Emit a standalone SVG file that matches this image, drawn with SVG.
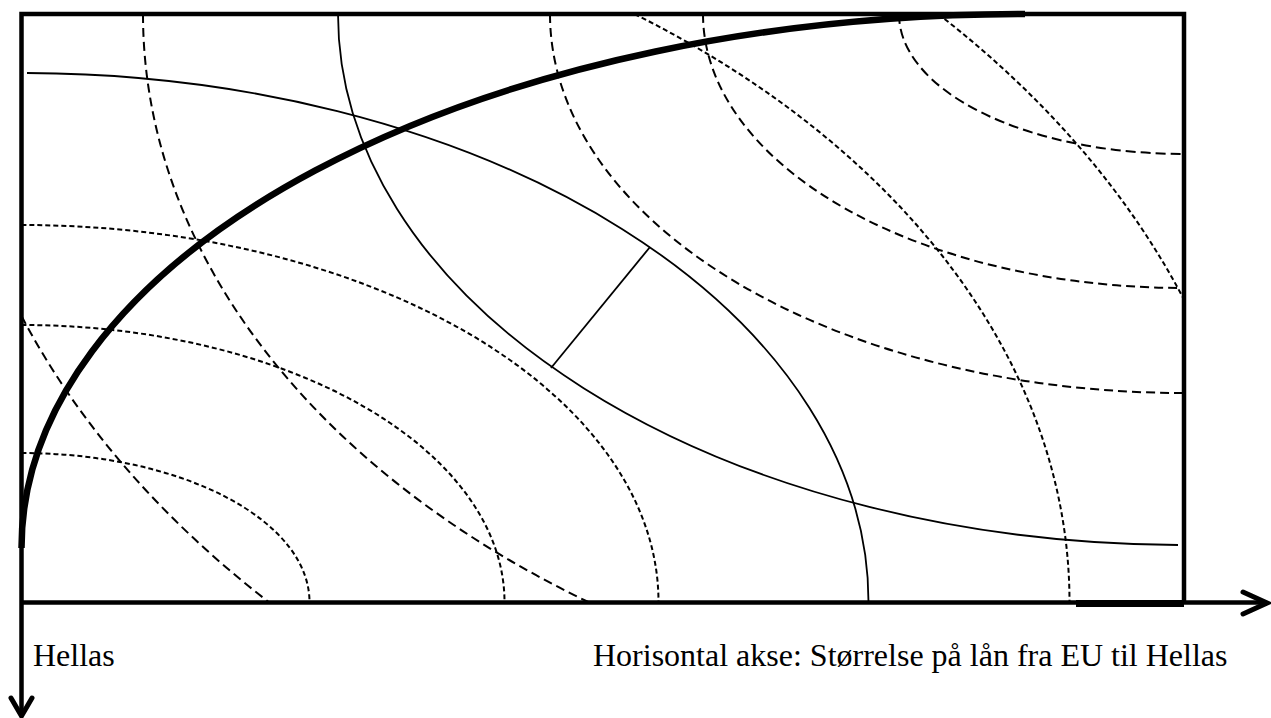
<svg xmlns="http://www.w3.org/2000/svg" width="1271" height="718" viewBox="0 0 1271 718">
<style>
.frame{fill:none;stroke:#000;stroke-width:4.5;stroke-linejoin:miter}
.arrow{fill:none;stroke:#000;stroke-width:5;stroke-linecap:round;stroke-linejoin:miter}
.solid{fill:none;stroke:#000;stroke-width:1.8}
.da{fill:none;stroke:#000;stroke-width:2;stroke-dasharray:9 5}
.db{fill:none;stroke:#000;stroke-width:2;stroke-dasharray:5 3}
.thick{fill:none;stroke:#000;stroke-width:6.5}
.lbl{font-family:"Liberation Serif","Times New Roman",serif;font-size:32px;fill:#000}
</style>
<rect width="1271" height="718" fill="#fff"/>
<g id="hellas-curves">
<path class="db" d="M21.5,453 A288,149 0 0 1 309.5,602"/>
<path class="db" d="M21.5,325 A483,277 0 0 1 504.5,602"/>
<path class="db" d="M21.5,225 A637,377 0 0 1 658.5,602"/>
<path class="db" d="M634.5,14 A1048,725 0 0 1 1069.5,602"/>
<path class="db" d="M938.2,14 A1239,874 0 0 1 1184,299.6"/>
</g>
<g id="eu-curves">
<path class="da" d="M21.5,316 A1237,873 0 0 0 268.7,602"/>
<path class="da" d="M143,14 A1041,717 0 0 0 588.3,602"/>
<path class="da" d="M550,14 A634,379 0 0 0 1184,393"/>
<path class="da" d="M703,14 A481,274 0 0 0 1184,288"/>
<path class="da" d="M899,14 A285,140 0 0 0 1184,154" style="stroke-dasharray:10 5"/>
</g>
<g id="tangent-curves">
<path class="solid" d="M27,73 A847,529 0 0 1 868.5,602"/>
<path class="solid" d="M338,14 A846,531 0 0 0 1178,545"/>
<path class="solid" d="M650,247 L551,368"/>
</g>
<g id="contract-curve">
<path class="thick" d="M21.5,548 A1003.5,534 0 0 1 1025,14"/>
<path class="thick" d="M1076,603.5 H1184" style="stroke-width:7"/>
</g>
<g id="axes">
<path class="frame" d="M21.5,715 V14 H1184 V602.5"/>
<path class="frame" d="M21.5,602.5 H1265"/>
<path class="arrow" d="M1243,592 L1267,603 L1243,614"/>
<path class="arrow" d="M11,698 L21.5,716 L32,698"/>
</g>
<g id="labels">
<text class="lbl" x="33" y="666">Hellas</text>
<text class="lbl" x="593" y="666">Horisontal akse: Størrelse på lån fra EU til Hellas</text>
</g>
</svg>
